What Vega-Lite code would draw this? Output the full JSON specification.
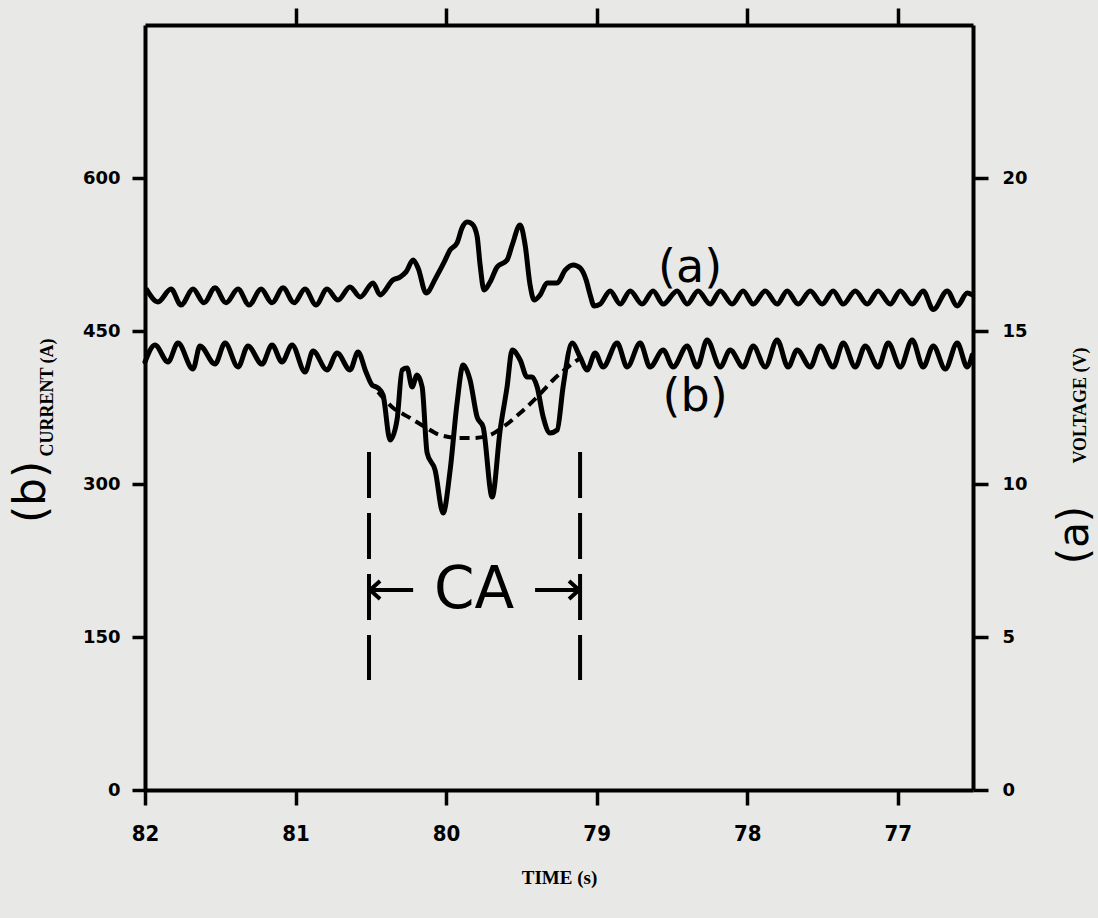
{
  "$schema": "https://vega.github.io/schema/vega-lite/v6.json",
  "width": 828,
  "height": 765,
  "autosize": "none",
  "padding": {"left": 145, "top": 25, "right": 125, "bottom": 128},
  "background": "#e8e8e6",
  "config": {
    "view": {"stroke": null},
    "axis": {"domainColor": "black", "domainWidth": 4, "tickColor": "black", "tickWidth": 3.5, "grid": false, "labelColor": "black", "titleColor": "black", "labelFlush": false}
  },
  "datasets": {
    "volt": [
      {"t": 81.987, "v": 16.34}, {"t": 81.914, "v": 15.95}, {"t": 81.827, "v": 16.37}, {"t": 81.761, "v": 15.85},
      {"t": 81.681, "v": 16.37}, {"t": 81.608, "v": 15.92}, {"t": 81.535, "v": 16.41}, {"t": 81.462, "v": 15.92},
      {"t": 81.382, "v": 16.37}, {"t": 81.309, "v": 15.85}, {"t": 81.229, "v": 16.37}, {"t": 81.156, "v": 15.92},
      {"t": 81.083, "v": 16.41}, {"t": 81.010, "v": 15.92}, {"t": 80.937, "v": 16.37}, {"t": 80.864, "v": 15.85},
      {"t": 80.791, "v": 16.37}, {"t": 80.718, "v": 16.01}, {"t": 80.638, "v": 16.44}, {"t": 80.571, "v": 16.11},
      {"t": 80.485, "v": 16.57}, {"t": 80.439, "v": 16.18}, {"t": 80.352, "v": 16.67}, {"t": 80.306, "v": 16.76},
      {"t": 80.266, "v": 16.93}, {"t": 80.219, "v": 17.32}, {"t": 80.186, "v": 17.06}, {"t": 80.133, "v": 16.24},
      {"t": 80.066, "v": 16.76}, {"t": 80.013, "v": 17.25}, {"t": 79.973, "v": 17.65}, {"t": 79.927, "v": 17.88},
      {"t": 79.894, "v": 18.37}, {"t": 79.860, "v": 18.56}, {"t": 79.827, "v": 18.50}, {"t": 79.794, "v": 18.10},
      {"t": 79.774, "v": 17.16}, {"t": 79.748, "v": 16.34}, {"t": 79.708, "v": 16.60}, {"t": 79.661, "v": 17.09},
      {"t": 79.595, "v": 17.32}, {"t": 79.561, "v": 17.81}, {"t": 79.508, "v": 18.46}, {"t": 79.475, "v": 17.81},
      {"t": 79.442, "v": 16.50}, {"t": 79.415, "v": 16.01}, {"t": 79.375, "v": 16.18}, {"t": 79.329, "v": 16.57},
      {"t": 79.262, "v": 16.57}, {"t": 79.209, "v": 16.99}, {"t": 79.156, "v": 17.16}, {"t": 79.110, "v": 17.06},
      {"t": 79.070, "v": 16.67}, {"t": 79.043, "v": 16.18}, {"t": 79.017, "v": 15.82}, {"t": 78.977, "v": 15.88},
      {"t": 78.910, "v": 16.31}, {"t": 78.844, "v": 15.88}, {"t": 78.777, "v": 16.31}, {"t": 78.698, "v": 15.88},
      {"t": 78.625, "v": 16.31}, {"t": 78.558, "v": 15.88}, {"t": 78.465, "v": 16.31}, {"t": 78.399, "v": 15.88},
      {"t": 78.326, "v": 16.31}, {"t": 78.246, "v": 15.88}, {"t": 78.179, "v": 16.31}, {"t": 78.100, "v": 15.88},
      {"t": 78.027, "v": 16.31}, {"t": 77.960, "v": 15.88}, {"t": 77.880, "v": 16.31}, {"t": 77.801, "v": 15.88},
      {"t": 77.734, "v": 16.31}, {"t": 77.661, "v": 15.88}, {"t": 77.581, "v": 16.31}, {"t": 77.502, "v": 15.88},
      {"t": 77.429, "v": 16.31}, {"t": 77.362, "v": 15.88}, {"t": 77.282, "v": 16.31}, {"t": 77.203, "v": 15.88},
      {"t": 77.130, "v": 16.31}, {"t": 77.050, "v": 15.88}, {"t": 76.983, "v": 16.31}, {"t": 76.904, "v": 15.88},
      {"t": 76.831, "v": 16.31}, {"t": 76.764, "v": 15.70}, {"t": 76.671, "v": 16.31}, {"t": 76.605, "v": 15.82},
      {"t": 76.538, "v": 16.24}, {"t": 76.505, "v": 16.18}
    ],
    "curr": [
      {"t": 82.000, "i": 419.6}, {"t": 81.934, "i": 436.3}, {"t": 81.847, "i": 419.6}, {"t": 81.781, "i": 438.2},
      {"t": 81.681, "i": 412.7}, {"t": 81.635, "i": 435.3}, {"t": 81.535, "i": 417.6}, {"t": 81.468, "i": 438.2},
      {"t": 81.382, "i": 414.7}, {"t": 81.316, "i": 435.3}, {"t": 81.223, "i": 417.6}, {"t": 81.156, "i": 436.3},
      {"t": 81.090, "i": 419.6}, {"t": 81.023, "i": 436.3}, {"t": 80.937, "i": 409.8}, {"t": 80.884, "i": 430.4},
      {"t": 80.791, "i": 411.8}, {"t": 80.724, "i": 428.4}, {"t": 80.638, "i": 411.8}, {"t": 80.585, "i": 429.4},
      {"t": 80.532, "i": 409.8}, {"t": 80.492, "i": 397.1}, {"t": 80.452, "i": 394.1}, {"t": 80.419, "i": 387.3},
      {"t": 80.372, "i": 343.1}, {"t": 80.326, "i": 362.7}, {"t": 80.292, "i": 411.8}, {"t": 80.259, "i": 413.7},
      {"t": 80.226, "i": 395.1}, {"t": 80.193, "i": 406.9}, {"t": 80.159, "i": 395.1}, {"t": 80.126, "i": 330.4},
      {"t": 80.073, "i": 313.7}, {"t": 80.020, "i": 271.6}, {"t": 79.973, "i": 313.7}, {"t": 79.927, "i": 379.4},
      {"t": 79.887, "i": 416.7}, {"t": 79.841, "i": 402.0}, {"t": 79.794, "i": 365.7}, {"t": 79.754, "i": 355.9},
      {"t": 79.694, "i": 287.3}, {"t": 79.641, "i": 352.9}, {"t": 79.595, "i": 395.1}, {"t": 79.561, "i": 431.4},
      {"t": 79.508, "i": 421.6}, {"t": 79.462, "i": 404.9}, {"t": 79.429, "i": 404.9}, {"t": 79.395, "i": 395.1},
      {"t": 79.355, "i": 365.7}, {"t": 79.309, "i": 350.0}, {"t": 79.262, "i": 352.9}, {"t": 79.223, "i": 395.1},
      {"t": 79.163, "i": 438.2}, {"t": 79.110, "i": 424.5}, {"t": 79.063, "i": 411.8}, {"t": 79.010, "i": 428.4},
      {"t": 78.957, "i": 414.7}, {"t": 78.864, "i": 438.2}, {"t": 78.797, "i": 414.7}, {"t": 78.711, "i": 438.2},
      {"t": 78.645, "i": 414.7}, {"t": 78.558, "i": 431.4}, {"t": 78.492, "i": 414.7}, {"t": 78.399, "i": 435.3},
      {"t": 78.332, "i": 414.7}, {"t": 78.266, "i": 441.2}, {"t": 78.179, "i": 414.7}, {"t": 78.113, "i": 431.4},
      {"t": 78.027, "i": 414.7}, {"t": 77.960, "i": 435.3}, {"t": 77.880, "i": 414.7}, {"t": 77.801, "i": 441.2},
      {"t": 77.728, "i": 414.7}, {"t": 77.668, "i": 431.4}, {"t": 77.581, "i": 414.7}, {"t": 77.515, "i": 435.3},
      {"t": 77.429, "i": 414.7}, {"t": 77.362, "i": 438.2}, {"t": 77.282, "i": 414.7}, {"t": 77.216, "i": 435.3},
      {"t": 77.130, "i": 414.7}, {"t": 77.063, "i": 438.2}, {"t": 76.983, "i": 414.7}, {"t": 76.904, "i": 441.2},
      {"t": 76.831, "i": 414.7}, {"t": 76.764, "i": 435.3}, {"t": 76.684, "i": 412.7}, {"t": 76.605, "i": 438.2},
      {"t": 76.538, "i": 414.7}, {"t": 76.505, "i": 426.5}
    ],
    "trend": [
      {"t": 80.452, "i": 390.2}, {"t": 80.359, "i": 375.5}, {"t": 80.239, "i": 364.7}, {"t": 80.140, "i": 355.9},
      {"t": 80.040, "i": 348.0}, {"t": 79.907, "i": 345.1}, {"t": 79.821, "i": 345.1}, {"t": 79.708, "i": 348.0},
      {"t": 79.621, "i": 355.9}, {"t": 79.508, "i": 369.6}, {"t": 79.395, "i": 385.3}, {"t": 79.289, "i": 402.0},
      {"t": 79.156, "i": 418.6}, {"t": 79.110, "i": 423.5}
    ],
    "bounds": [
      {"t": 80.512, "top": 331.4, "bottom": 107.8},
      {"t": 79.110, "top": 331.4, "bottom": 107.8}
    ],
    "shafts": [
      {"t": 80.512, "t2": 80.219, "i": 196.0},
      {"t": 79.409, "t2": 79.110, "i": 196.0}
    ],
    "heads": [
      {"t": 80.505, "i": 196.0, "dir": "left"},
      {"t": 79.117, "i": 196.0, "dir": "right"}
    ],
    "labels": [
      {"t": 79.814, "i": 195.1, "text": "CA", "size": 58, "angle": 0},
      {"t": 78.379, "i": 511.8, "text": "(a)", "size": 46, "angle": 0},
      {"t": 78.346, "i": 385.3, "text": "(b)", "size": 46, "angle": 0},
      {"t": 82.750, "i": 292.2, "text": "(b)", "size": 44, "angle": 270},
      {"t": 75.821, "i": 250.0, "text": "(a)", "size": 42, "angle": 270}
    ]
  },
  "layer": [
    {
      "data": {"name": "volt"},
      "mark": {"type": "line", "color": "black", "strokeWidth": 5, "interpolate": "monotone", "strokeJoin": "round", "strokeCap": "round"},
      "encoding": {
        "x": {"field": "t", "type": "quantitative",
              "scale": {"domain": [76.5, 82], "reverse": true, "nice": false, "zero": false},
              "axis": {"orient": "bottom", "values": [82, 81, 80, 79, 78, 77], "format": "d", "tickSize": 15,
                       "labelFont": "Liberation Sans Narrow, DejaVu Sans Condensed, Liberation Serif", "labelFontWeight": "bold", "labelFontSize": 22, "labelPadding": 18,
                       "title": "TIME (s)", "titleFont": "Liberation Serif", "titleFontWeight": "bold", "titleFontSize": 19, "titlePadding": 24}},
        "y": {"field": "v", "type": "quantitative",
              "scale": {"domain": [0, 25], "nice": false, "zero": false},
              "axis": {"orient": "right", "values": [0, 5, 10, 15, 20], "format": "d", "tickSize": 15,
                       "labelFont": "DejaVu Sans", "labelFontWeight": "bold", "labelFontSize": 18, "labelPadding": 14,
                       "title": "VOLTAGE (V)", "titleAngle": 270, "titleFont": "Liberation Serif", "titleFontWeight": "bold", "titleFontSize": 18,
                       "titlePadding": 62, "titleY": 380}}
      }
    },
    {
      "data": {"name": "curr"},
      "mark": {"type": "line", "color": "black", "strokeWidth": 5, "interpolate": "monotone", "strokeJoin": "round", "strokeCap": "round"},
      "encoding": {
        "x": {"field": "t", "type": "quantitative",
              "scale": {"domain": [76.5, 82], "reverse": true, "nice": false, "zero": false},
              "axis": {"orient": "top", "values": [81, 80, 79, 78, 77], "labels": false, "title": null, "tickSize": 17}},
        "y": {"field": "i", "type": "quantitative",
              "scale": {"domain": [0, 750], "nice": false, "zero": false},
              "axis": {"orient": "left", "values": [0, 150, 300, 450, 600], "format": "d", "tickSize": 13,
                       "labelFont": "DejaVu Sans", "labelFontWeight": "bold", "labelFontSize": 18, "labelPadding": 12,
                       "title": "CURRENT (A)", "titleFont": "Liberation Serif", "titleFontWeight": "bold", "titleFontSize": 18,
                       "titlePadding": 26, "titleY": 372}}
      }
    },
    {
      "data": {"name": "trend"},
      "mark": {"type": "line", "color": "black", "strokeWidth": 4, "strokeDash": [10, 6], "interpolate": "monotone"},
      "encoding": {
        "x": {"field": "t", "type": "quantitative", "scale": {"domain": [76.5, 82], "reverse": true, "nice": false, "zero": false}, "axis": null},
        "y": {"field": "i", "type": "quantitative", "scale": {"domain": [0, 750], "nice": false, "zero": false}, "axis": null}
      }
    },
    {
      "data": {"name": "bounds"},
      "mark": {"type": "rule", "color": "black", "strokeWidth": 4, "strokeDash": [46, 15]},
      "encoding": {
        "x": {"field": "t", "type": "quantitative", "scale": {"domain": [76.5, 82], "reverse": true, "nice": false, "zero": false}, "axis": null},
        "y": {"field": "top", "type": "quantitative", "scale": {"domain": [0, 750], "nice": false, "zero": false}, "axis": null},
        "y2": {"field": "bottom"}
      }
    },
    {
      "data": {"name": "shafts"},
      "mark": {"type": "rule", "color": "black", "strokeWidth": 4},
      "encoding": {
        "x": {"field": "t", "type": "quantitative", "scale": {"domain": [76.5, 82], "reverse": true, "nice": false, "zero": false}, "axis": null},
        "x2": {"field": "t2"},
        "y": {"field": "i", "type": "quantitative", "scale": {"domain": [0, 750], "nice": false, "zero": false}, "axis": null}
      }
    },
    {
      "data": {"name": "heads"},
      "mark": {"type": "point", "filled": false, "color": "black", "strokeWidth": 4, "size": 400, "opacity": 1},
      "encoding": {
        "x": {"field": "t", "type": "quantitative", "scale": {"domain": [76.5, 82], "reverse": true, "nice": false, "zero": false}, "axis": null},
        "y": {"field": "i", "type": "quantitative", "scale": {"domain": [0, 750], "nice": false, "zero": false}, "axis": null},
        "shape": {"field": "dir", "type": "nominal",
                  "scale": {"domain": ["left", "right"], "range": ["M1,-0.9L0,0L1,0.9", "M-1,-0.9L0,0L-1,0.9"]},
                  "legend": null}
      }
    },
    {
      "data": {"name": "labels"},
      "mark": {"type": "text", "color": "black", "font": "DejaVu Sans", "align": "center", "baseline": "middle"},
      "encoding": {
        "x": {"field": "t", "type": "quantitative", "scale": {"domain": [76.5, 82], "reverse": true, "nice": false, "zero": false}, "axis": null},
        "y": {"field": "i", "type": "quantitative", "scale": {"domain": [0, 750], "nice": false, "zero": false}, "axis": null},
        "text": {"field": "text"},
        "size": {"field": "size", "type": "quantitative", "scale": null, "legend": null},
        "angle": {"field": "angle", "type": "quantitative", "scale": null, "legend": null}
      }
    }
  ],
  "resolve": {"scale": {"y": "independent"}, "axis": {"x": "independent", "y": "independent"}}
}
